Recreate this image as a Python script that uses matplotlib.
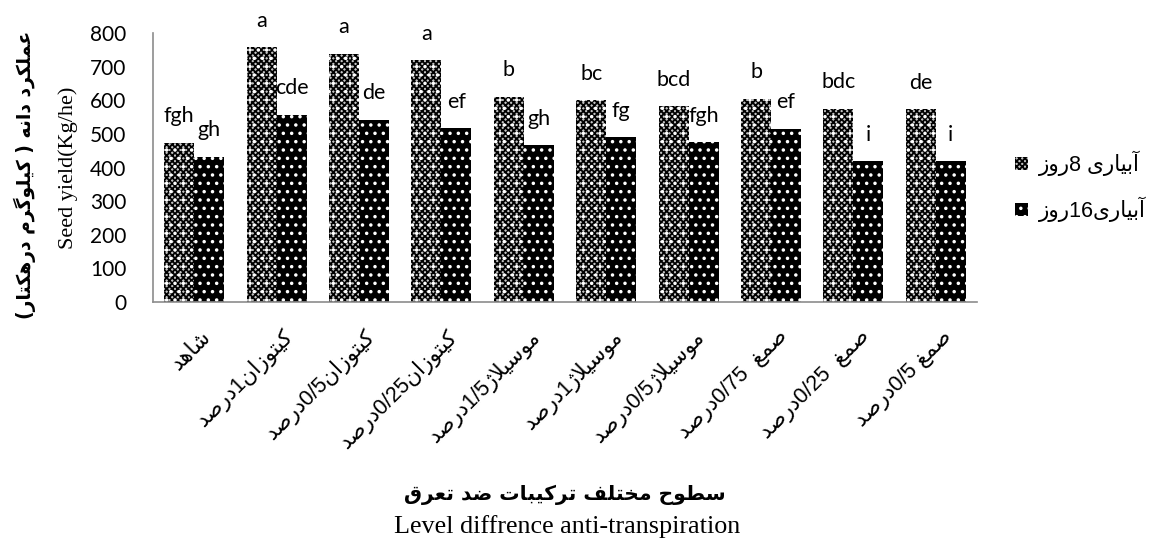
import matplotlib
matplotlib.use("Agg")
import matplotlib.pyplot as plt
import numpy as np
from matplotlib.transforms import ScaledTranslation

# ---------------- data ----------------
day8_values = [474, 758, 738, 720, 611, 601, 583, 605, 575, 574]
day16_values = [432, 557, 542, 517, 467, 490, 475, 515, 418, 419]
day8_letters = ["fgh", "a", "a", "a", "b", "bc", "bcd", "b", "bdc", "de"]
day16_letters = ["gh", "cde", "de", "ef", "gh", "fg", "fgh", "ef", "i", "i"]
# category labels: (name, number, unit) in logical Persian
cat_names = ["شاهد", "کیتوزان", "کیتوزان", "کیتوزان", "موسیلاژ", "موسیلاژ",
             "موسیلاژ", "صمغ", "صمغ", "صمغ"]
cat_numbers = ["", "1", "0/5", "0/25", "1/5", "1", "0/5", "0/75  ", "0/25  ", "0/5 "]
cat_unit = ["", "درصد", "درصد", "درصد", "درصد", "درصد", "درصد", "درصد", "درصد", "درصد"]
legend_days = ["8 ", "16"]
yticks = [0, 100, 200, 300, 400, 500, 600, 700, 800]

# ------------- minimal Arabic/Persian shaping -------------
DUAL = {'ب': 0xFE8F, 'ت': 0xFE95, 'ث': 0xFE99, 'ج': 0xFE9D, 'ح': 0xFEA1, 'خ': 0xFEA5,
        'س': 0xFEB1, 'ش': 0xFEB5, 'ص': 0xFEB9, 'ض': 0xFEBD, 'ط': 0xFEC1, 'ظ': 0xFEC5,
        'ع': 0xFEC9, 'غ': 0xFECD, 'ف': 0xFED1, 'ق': 0xFED5, 'ك': 0xFED9, 'ل': 0xFEDD,
        'م': 0xFEE1, 'ن': 0xFEE5, 'ه': 0xFEE9, 'ي': 0xFEF1, 'ی': 0xFBFC, 'ک': 0xFB8E,
        'گ': 0xFB92, 'پ': 0xFB56, 'چ': 0xFB7A}
RIGHT = {'ا': 0xFE8D, 'آ': 0xFE81, 'د': 0xFEA9, 'ذ': 0xFEAB, 'ر': 0xFEAD, 'ز': 0xFEAF,
         'ژ': 0xFB8A, 'و': 0xFEED, 'LA': 0xFEFB, 'LAA': 0xFEF5}


def shape(word):
    units = []
    i = 0
    while i < len(word):
        c = word[i]
        if c == 'ل' and i + 1 < len(word) and word[i + 1] in ('ا', 'آ'):
            units.append('LA' if word[i + 1] == 'ا' else 'LAA')
            i += 2
        else:
            units.append(c)
            i += 1

    def jt(u):
        if u in DUAL:
            return 'D'
        if u in RIGHT:
            return 'R'
        return 'U'

    res = []
    for k, u in enumerate(units):
        t = jt(u)
        prev = jt(units[k - 1]) if k > 0 else 'U'
        nxt = jt(units[k + 1]) if k + 1 < len(units) else 'U'
        jp = t in ('D', 'R') and prev == 'D'
        jn = t == 'D' and nxt in ('D', 'R')
        if t == 'U':
            res.append(u)
            continue
        base = DUAL.get(u, RIGHT.get(u))
        if t == 'D':
            off = 3 if (jp and jn) else 1 if jp else 2 if jn else 0
        else:
            off = 1 if jp else 0
        res.append(chr(base + off))
    return ''.join(reversed(res))


def visual_rtl(words):
    """words in logical order -> visual left-to-right string"""
    return ' '.join(shape(w) for w in reversed(words))


cat_labels = []
for n, num, u in zip(cat_names, cat_numbers, cat_unit):
    cat_labels.append((shape(u) if u else '') + num + shape(n))

legend_labels = [shape("روز") + d + shape("آبیاری") for d in legend_days]

ylabel_fa = "(" + shape("درهکتار") + " " + shape("کیلوگرم") + " ) " + \
    shape("دانه") + " " + shape("عملکرد")
xlabel_fa = visual_rtl(["سطوح", "مختلف", "ترکیبات", "ضد", "تعرق"])

# ---------------- plotting ----------------
plt.rcParams['hatch.linewidth'] = 1.3
fig = plt.figure(figsize=(11.51, 5.45), dpi=100)
ax = fig.add_axes([153 / 1151, 1 - 302 / 545, (977 - 153) / 1151, (302 - 33) / 545])

x = np.arange(len(day8_values))
w = 0.364
b1 = ax.bar(x - w / 2, day8_values, w, facecolor='#c4c4c4', edgecolor='black',
            hatch='xxxxxx', linewidth=0)
ax.bar(x - w / 2, day8_values, w, facecolor='none', edgecolor='white',
       hatch='..', linewidth=0)
b2 = ax.bar(x + w / 2, day16_values, w, facecolor='black', edgecolor='white',
            hatch='..', linewidth=0)

for xi, v, t in zip(x - w / 2, day8_values, day8_letters):
    ax.annotate(t, (xi, v), xytext=(0, 19), textcoords='offset points',
                ha='center', va='center', fontsize=15.5, family='Lato',
                annotation_clip=False)
for xi, v, t in zip(x + w / 2, day16_values, day16_letters):
    ax.annotate(t, (xi, v), xytext=(0, 19), textcoords='offset points',
                ha='center', va='center', fontsize=15.5, family='Lato',
                annotation_clip=False)

ax.set_xlim(-0.5, len(x) - 0.5)
ax.set_ylim(0, 800)
ax.set_yticks(yticks)
ax.set_yticklabels([str(t) for t in yticks], fontsize=15, family='Lato')
ax.tick_params(axis='y', length=0, pad=19)
ax.set_xticks(x)
ax.set_xticklabels(cat_labels, rotation=45, ha='right', va='top',
                   rotation_mode='anchor', fontsize=15.5,
                   family=['Liberation Sans', 'DejaVu Sans'])
ax.tick_params(axis='x', length=0, pad=17)
for lab in ax.get_xticklabels():
    lab.set_transform(lab.get_transform() + ScaledTranslation(4 / 72, 0, fig.dpi_scale_trans))

for s in ['top', 'right']:
    ax.spines[s].set_visible(False)
for s in ['left', 'bottom']:
    ax.spines[s].set_color('#8c8c8c')
    ax.spines[s].set_linewidth(1.2)

leg = fig.legend([b1, b2], legend_labels, loc='center left',
                 bbox_to_anchor=(1004 / 1151, 1 - 186 / 545), frameon=False,
                 markerfirst=True, handlelength=0.6, handleheight=0.55,
                 handletextpad=0.5, labelspacing=0.95, borderpad=0,
                 prop={'family': ['Liberation Sans', 'DejaVu Sans'], 'size': 15.5})

fig.text(25 / 1151, 1 - 175 / 545, ylabel_fa, rotation=90, ha='center', va='center',
         fontsize=13.5, fontweight='bold', family=['DejaVu Sans'])
fig.text(68 / 1151, 1 - 168 / 545, "Seed yield(Kg/he)", rotation=90, ha='center',
         va='center', fontsize=16, family='Liberation Serif')
fig.text(565 / 1151, 1 - 495 / 545, xlabel_fa, ha='center', va='center',
         fontsize=14.6, fontweight='bold', family=['DejaVu Sans'])
fig.text(567 / 1151, 1 - 527 / 545, "Level diffrence anti-transpiration", ha='center',
         va='center', fontsize=18.8, family='Liberation Serif')

fig.savefig("out.png", dpi=100)
